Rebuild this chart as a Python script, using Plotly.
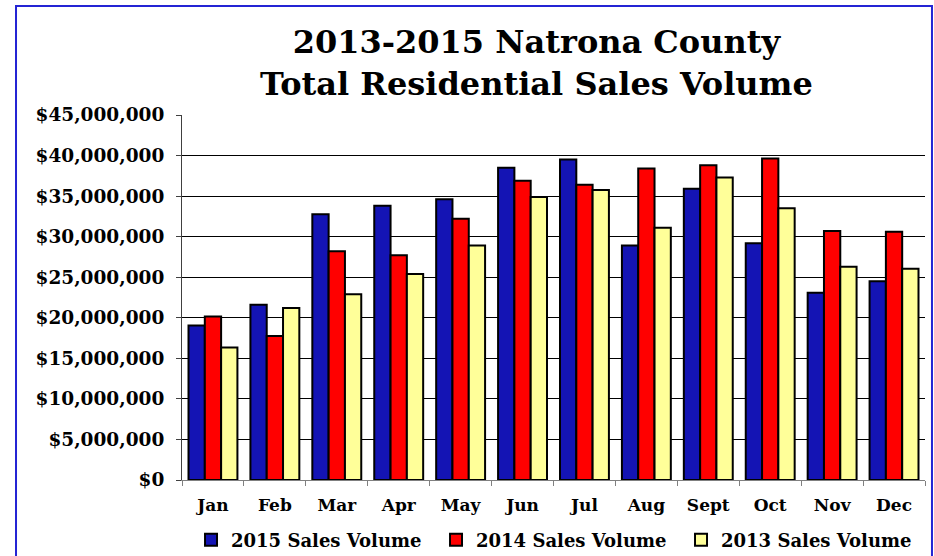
import plotly.graph_objects as go

months = ["Jan", "Feb", "Mar", "Apr", "May", "Jun", "Jul", "Aug", "Sept", "Oct", "Nov", "Dec"]
sales_2015 = [19.06e6, 21.6e6, 32.75e6, 33.8e6, 34.6e6, 38.5e6, 39.5e6, 28.9e6, 35.9e6, 29.2e6, 23.1e6, 24.5e6]
sales_2014 = [20.17e6, 17.75e6, 28.2e6, 27.7e6, 32.2e6, 36.9e6, 36.4e6, 38.4e6, 38.8e6, 39.65e6, 30.7e6, 30.6e6]
sales_2013 = [16.35e6, 21.2e6, 22.9e6, 25.4e6, 28.9e6, 34.9e6, 35.75e6, 31.1e6, 37.3e6, 33.5e6, 26.3e6, 26.05e6]
series_names = ["2015 Sales Volume", "2014 Sales Volume", "2013 Sales Volume"]
series_colors = ["#1414B4", "#FF0000", "#FFFF99"]
title_lines = ["2013-2015 Natrona County", "Total Residential Sales Volume"]

FONT = "DejaVu Serif"

fig = go.Figure()
for name, vals, col in zip(series_names, [sales_2015, sales_2014, sales_2013], series_colors):
    fig.add_trace(go.Bar(
        x=months, y=vals, name=name,
        marker=dict(color=col, line=dict(color="black", width=2)),
    ))

fig.update_layout(
    width=934, height=556,
    margin=dict(l=182, r=9, t=115, b=76, autoexpand=False),
    paper_bgcolor="white", plot_bgcolor="white",
    barmode="group", bargap=0.21, bargroupgap=0,
    font=dict(family=FONT, color="black"),
    showlegend=True,
    legend=dict(orientation="h", xref="container", yref="container",
                x=0.598, xanchor="center", y=0.0288, yanchor="middle",
                bgcolor="rgba(0,0,0,0)",
                font=dict(family=FONT, size=18, color="black", weight="bold"),
                itemwidth=30, tracegroupgap=0,
                entrywidth=200, entrywidthmode="pixels"),
    xaxis=dict(
        showline=True, linecolor="#808080", linewidth=1,
        ticks="outside", tickson="boundaries", ticklen=5, tickcolor="#808080",
        tickfont=dict(family=FONT, size=17, color="black", weight="bold"),
        ticklabelstandoff=10,
        showgrid=False,
    ),
    yaxis=dict(
        range=[0, 45e6], dtick=5e6, tickprefix="$", tickformat=",d",
        showline=True, linecolor="#404040", linewidth=1,
        ticks="outside", ticklen=5, tickcolor="#404040",
        tickfont=dict(family=FONT, size=18.5, color="black", weight="bold"),
        ticklabelstandoff=8,
        showgrid=True, gridcolor="black", gridwidth=1,
        zeroline=False,
    ),
    annotations=[dict(
        text="<b>" + "<br>".join(title_lines) + "</b>",
        xref="paper", yref="paper", x=0.4765, y=1.142,
        xanchor="center", yanchor="middle", showarrow=False,
        font=dict(family=FONT, size=32, color="black"),
    )],
    shapes=[dict(
        type="rect", xref="paper", yref="paper",
        x0=-0.2234, x1=1.0094, y0=-0.2466, y1=1.2986,
        line=dict(color="#2424D4", width=2), fillcolor="rgba(0,0,0,0)", layer="below",
    )],
)

fig.write_html("out.html")
